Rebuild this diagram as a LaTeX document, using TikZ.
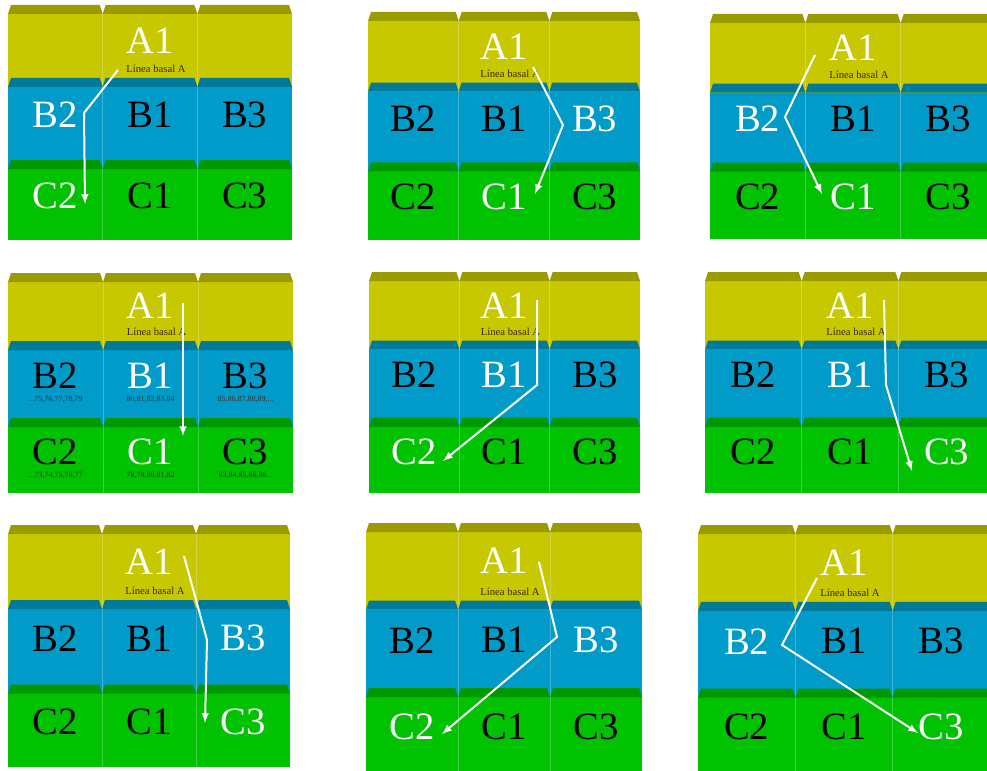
\documentclass[tikz,border=0pt]{standalone}
\usepackage{fontspec}
\setmainfont{Liberation Serif}
\usetikzlibrary{calc}
\definecolor{layerA}{RGB}{200,200,0}
\definecolor{layerAdark}{RGB}{155,155,0}
\definecolor{layerB}{RGB}{0,155,200}
\definecolor{layerBdark}{RGB}{0,122,152}
\definecolor{layerC}{RGB}{0,194,0}
\definecolor{layerCdark}{RGB}{0,152,0}
\definecolor{basaltext}{RGB}{60,40,0}
\tikzset{
	x=0.75pt, y=-0.75pt,
	layer/.style={font=\fontsize{29}{29}\selectfont, inner sep=0pt},
	basal/.style={font=\fontsize{8}{8}\selectfont, text=basaltext, inner sep=0pt},
	nums/.style={font=\fontsize{6}{6}\selectfont, text=black!80, inner sep=0pt},
	sep/.style={white, opacity=0.25, line width=0.4pt},
	flow/.style={white, line width=1.5pt, -latex}
}

\newcommand{\panel}[7] % name, left x, top y, width, height (px), lit B column, lit C column
{
	\pgfmathsetmacro{\rowb}{#3+0.31*#5}
	\pgfmathsetmacro{\rowc}{#3+0.66*#5}
	\pgfmathsetmacro{\colM}{#2+#4/2}
	% row bodies
	\fill[layerA] (#2,#3+9) rectangle (#2+#4,\rowb+9);
	\fill[layerB] (#2,\rowb+9) rectangle (#2+#4,\rowc+9);
	\fill[layerC] (#2,\rowc+9) rectangle (#2+#4,#3+#5);
	% bevels on top of each cell
	\foreach \i in {0,1,2}
	{
		\pgfmathsetmacro{\colL}{#2+\i*#4/3}
		\pgfmathsetmacro{\colR}{#2+(\i+1)*#4/3}
		\fill[layerAdark] (\colL,#3+9) -- (\colL+3,#3) -- (\colR-3,#3) -- (\colR,#3+9) -- cycle;
		\fill[layerBdark] (\colL,\rowb+9) -- (\colL+3,\rowb) -- (\colR-3,\rowb) -- (\colR,\rowb+9) -- cycle;
		\fill[layerCdark] (\colL,\rowc+9) -- (\colL+3,\rowc) -- (\colR-3,\rowc) -- (\colR,\rowc+9) -- cycle;
	}
	% cell borders
	\draw[sep] (#2+#4/3,#3+9) -- (#2+#4/3,#3+#5);
	\draw[sep] (#2+2*#4/3,#3+9) -- (#2+2*#4/3,#3+#5);
	% labels
	\node[layer, text=white] (#1a1) at (\colM,{(#3+\rowb)/2-1}) {A1};
	\node[basal] (#1base) at ({\colM+6},{\rowb-9}) {Línea basal A};
	\foreach \i/\lab in {1/2,2/1,3/3}
	{
		\ifnum\i=#6\relax \def\labcol{white}\else \def\labcol{black}\fi
		\node[layer, text=\labcol] (#1b\lab) at ({#2+(\i-0.5)*#4/3},{(\rowb+\rowc)/2-4}) {B\lab};
	}
	\foreach \i/\lab in {1/2,2/1,3/3}
	{
		\ifnum\i=#7\relax \def\labcol{white}\else \def\labcol{black}\fi
		\node[layer, text=\labcol] (#1c\lab) at ({#2+(\i-0.5)*#4/3},{(\rowc+#3+#5)/2-4}) {C\lab};
	}
}

\begin{document}
\begin{tikzpicture}
	\clip (0,0) rectangle (987,770);
	\fill[white] (0,0) rectangle (987,770);
	% top row
	\panel{p1}{8}{5}{284}{235}{1}{1};
	\panel{p2}{368}{12}{272}{228}{3}{2};
	\panel{p3}{710}{14}{286}{225}{1}{2};
	% middle row
	\panel{p4}{8}{273}{285}{220}{2}{2};
	\panel{p5}{369}{272}{271}{221}{2}{1};
	\panel{p6}{705}{272}{290}{221}{2}{3};
	% bottom row
	\panel{p7}{8}{525}{282}{242}{3}{3};
	\panel{p8}{366}{523}{276}{250}{3}{1};
	\panel{p9}{698}{525}{292}{248}{1}{3};
	% counts under the layers of panel 4
	\node[nums] (p4nb2) at ($(p4b2)+(0,24)$) {...75,76,77,78,79};
	\node[nums] (p4nb1) at ($(p4b1)+(0,24)$) {80,81,82,83,84};
	\node[nums] (p4nb3) at ($(p4b3)+(0,24)$) {85,86,87,88,89,...};
	\node[nums] (p4nc2) at ($(p4c2)+(0,24)$) {...73,74,75,76,77};
	\node[nums] (p4nc1) at ($(p4c1)+(0,24)$) {78,79,80,81,82};
	\node[nums] (p4nc3) at ($(p4c3)+(0,24)$) {83,84,85,86,86...};
	% paths: A1 -> B -> C
	\coordinate (p1s) at (118,70); \coordinate (p1m) at (84,113); \coordinate (p1e) at (85,204);
	\draw[flow] (p1s) -- (p1m) -- (p1e);
	\coordinate (p2s) at (533,67); \coordinate (p2m) at (563,125); \coordinate (p2e) at (535,194);
	\draw[flow] (p2s) -- (p2m) -- (p2e);
	\coordinate (p3s) at (815,55); \coordinate (p3m) at (785,117); \coordinate (p3e) at (822,194);
	\draw[flow] (p3s) -- (p3m) -- (p3e);
	\coordinate (p4s) at (183,303); \coordinate (p4e) at (183,436);
	\draw[flow] (p4s) -- (p4e);
	\coordinate (p5s) at (537,300); \coordinate (p5m) at (537,385); \coordinate (p5e) at (443,461);
	\draw[flow] (p5s) -- (p5m) -- (p5e);
	\coordinate (p6s) at (884,300); \coordinate (p6m) at (886,385); \coordinate (p6e) at (912,471);
	\draw[flow] (p6s) -- (p6m) -- (p6e);
	\coordinate (p7s) at (184,556); \coordinate (p7m) at (207,640); \coordinate (p7e) at (205,723);
	\draw[flow] (p7s) -- (p7m) -- (p7e);
	\coordinate (p8s) at (539,562); \coordinate (p8m) at (557,637); \coordinate (p8e) at (442,734);
	\draw[flow] (p8s) -- (p8m) -- (p8e);
	\coordinate (p9s) at (817,578); \coordinate (p9m) at (782,645); \coordinate (p9e) at (918,733);
	\draw[flow] (p9s) -- (p9m) -- (p9e);
\end{tikzpicture}
\end{document}
